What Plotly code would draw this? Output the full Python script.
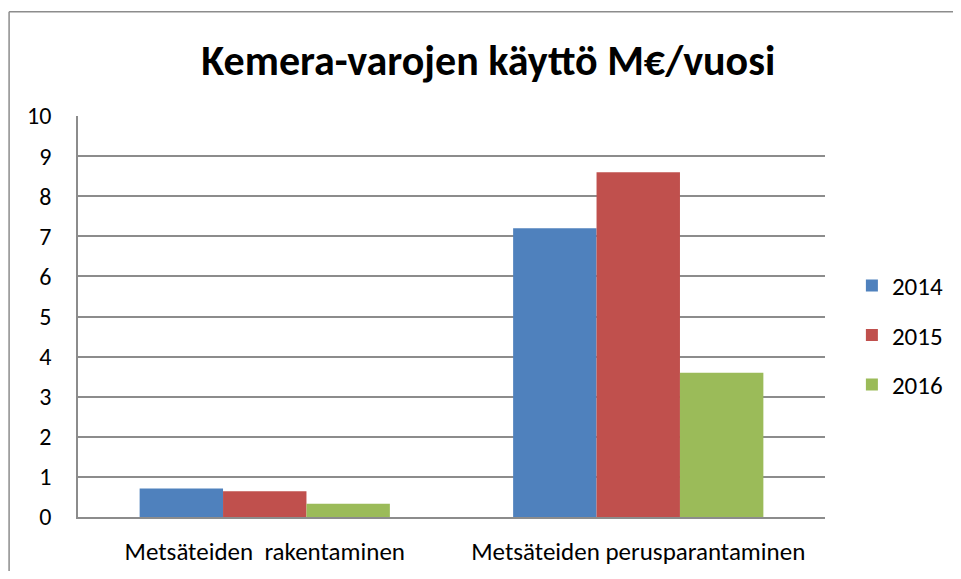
import plotly.graph_objects as go

# data
categories = ["Metsäteiden  rakentaminen", "Metsäteiden perusparantaminen"]
years = ["2014", "2015", "2016"]
v2014 = [0.71, 7.2]
v2015 = [0.64, 8.6]
v2016 = [0.33, 3.6]
colors = ["#4F81BD", "#C0504D", "#9BBB59"]

FONT = "Carlito, Lato, 'Open Sans', sans-serif"

fig = go.Figure()
for name, vals, col in zip(years, [v2014, v2015, v2016], colors):
    fig.add_trace(go.Bar(
        x=categories, y=vals, name=name, legendgroup=name,
        marker={'color': col, 'line': {'width': 0}}
    ))

# page is shown with an 8px offset, so the figure is 8px smaller
W, H = 953, 571
L, R, T, B = 70, 135, 108, 55

fig.update_layout({
    'width': W, 'height': H,
    'barmode': 'group',
    'bargap': 0.33,
    'bargroupgap': 0,
    'plot_bgcolor': 'white',
    'paper_bgcolor': 'white',
    'margin': {'l': L, 'r': R, 't': T, 'b': B, 'pad': 0},
    'font': {'family': FONT, 'size': 24, 'color': 'black'},
    'title': {
        'text': "<b>Kemera-varojen käyttö M€/vuosi</b>",
        'x': 0.504, 'xanchor': 'center',
        'y': 0.909, 'yanchor': 'middle',
        'font': {'size': 42, 'family': FONT},
    },
    'legend': {
        'x': 1.036, 'y': 0.453, 'yanchor': 'middle',
        'font': {'size': 25},
        'tracegroupgap': 14,
        'itemwidth': 30,
    },
    'showlegend': True,
})

fig.update_yaxes(
    range=[0, 10], dtick=1,
    showgrid=True, gridcolor='#8C8C8C', gridwidth=1.5,
    showline=True, linecolor='#8C8C8C', linewidth=1.5,
    ticks='', ticklabelstandoff=20,
    zeroline=False,
    tickfont={'size': 24},
)
fig.update_xaxes(
    showline=True, linecolor='#8C8C8C', linewidth=1.5,
    ticks='', ticklabelstandoff=11,
    tickfont={'size': 25},
)

# outer chart frame: only the top and left edges show in the picture
pw = W - L - R
ph = H - T - B
left = (1 - L) / pw
top = (H - B - 2) / ph
fig.add_shape(type='line', xref='paper', yref='paper',
              x0=left, x1=(W - L) / pw, y0=top, y1=top,
              line={'color': '#8C8C8C', 'width': 1.5})
fig.add_shape(type='line', xref='paper', yref='paper',
              x0=left, x1=left, y0=top, y1=-B / ph,
              line={'color': '#8C8C8C', 'width': 1.5})

fig.write_html("out.html")
